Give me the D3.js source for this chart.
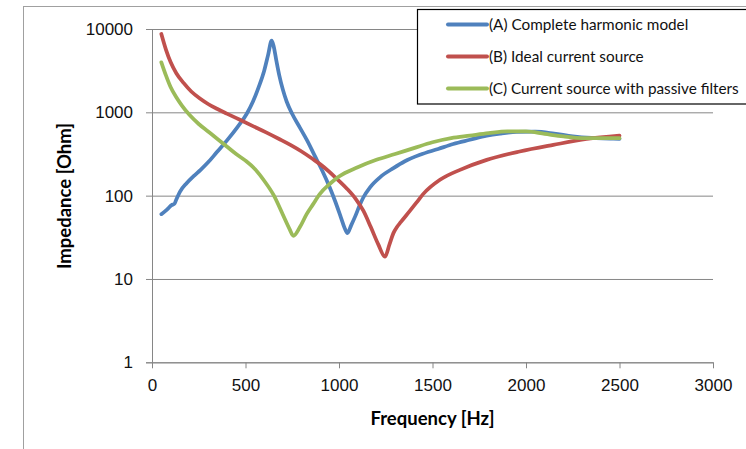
<!DOCTYPE html>
<html>
<head>
<meta charset="utf-8">
<script src="https://cdn.jsdelivr.net/npm/d3@7"></script>
<style>
  body { margin: 0; background: #fff; }
  svg { display: block; font-family: Lato, 'Open Sans', sans-serif; }
  .axis text { font-size: 17px; fill: #111; }
  .axis .domain, .axis line { stroke: #868686; }
</style>
</head>
<body>
<svg id="impedance"></svg>
<script>
// Series (A) Complete harmonic model
const freqA = [50, 80, 105, 120, 130, 150, 185, 221, 260, 300, 346, 400, 453, 506, 540, 570, 600, 620, 640, 650, 665, 680, 700, 720, 750, 790, 830, 870, 910, 950, 980, 1010, 1030, 1045, 1065, 1086, 1110, 1130, 1166, 1219, 1291, 1350, 1433, 1530, 1611, 1700, 1790, 1861, 1950, 2050, 2150, 2250, 2350, 2450, 2500];
const impA = [60, 68, 77, 80, 90, 112, 141, 170, 204, 251, 331, 457, 646, 955, 1349, 1995, 3162, 4786, 7244, 6310, 4169, 2818, 1862, 1349, 955, 661, 457, 302, 200, 126, 85, 55, 41, 35.5, 44, 56, 76, 95, 126, 166, 214, 257, 309, 363, 417, 468, 525, 556, 582, 585, 556, 515, 493, 485, 480];

// Series (B) Ideal current source
const freqB = [50, 75, 100, 130, 170, 210, 260, 300, 350, 400, 470, 540, 610, 680, 740, 800, 860, 920, 980, 1040, 1090, 1130, 1170, 1210, 1246, 1270, 1291, 1310, 1330, 1380, 1415, 1451, 1540, 1647, 1790, 1966, 2146, 2324, 2500];
const impB = [8710, 5623, 3981, 2951, 2239, 1778, 1445, 1259, 1096, 966, 813, 684, 575, 479, 407, 339, 275, 219, 166, 123, 91, 66, 42, 26, 18.5, 26, 35.5, 42, 48, 66, 83, 105, 155, 204, 269, 339, 407, 479, 525];

// Series (C) Current source with passive filters
const freqC = [50, 75, 100, 130, 160, 200, 250, 300, 350, 400, 450, 500, 550, 600, 650, 700, 735, 756, 791, 827, 860, 898, 950, 1000, 1100, 1200, 1300, 1400, 1500, 1600, 1700, 1800, 1900, 2000, 2100, 2200, 2300, 2400, 2500];
const impC = [3981, 2754, 1995, 1514, 1202, 933, 724, 589, 479, 389, 316, 263, 209, 151, 102, 59, 40, 33, 42, 60, 78, 105, 138, 170, 219, 269, 316, 372, 437, 490, 525, 562, 589, 589, 550, 513, 490, 490, 490];

const seriesNames = ['(A) Complete harmonic model', '(B) Ideal current source', '(C) Current source with passive filters'];
const seriesColors = ['#4F81BD', '#C0504D', '#9BBB59'];
const xTicks = [0, 500, 1000, 1500, 2000, 2500, 3000];
const yTicks = [1, 10, 100, 1000, 10000];

const width = 746;
const height = 449;
const plot = { left: 152, right: 713, top: 29, bottom: 362.3 };

const svg = d3.select('#impedance')
  .attr('width', width)
  .attr('height', height);

// chart frame (runs off the page on the right and bottom)
svg.append('rect')
  .attr('x', 23.5)
  .attr('y', 6.5)
  .attr('width', 800)
  .attr('height', 500)
  .attr('fill', 'none')
  .attr('stroke', '#a0a0a0');

const x = d3.scaleLinear()
  .domain([0, 3000])
  .range([plot.left, plot.right]);
const y = d3.scaleLog()
  .domain([1, 10000])
  .range([plot.bottom, plot.top]);

// gridlines
svg.append('g')
  .attr('transform', `translate(${plot.left}, 0)`)
  .call(d3.axisLeft(y).tickValues(yTicks).tickFormat('').tickSize(-(plot.right - plot.left)))
  .call(g => g.select('.domain').remove())
  .selectAll('line')
    .attr('stroke', '#868686');

// y axis
svg.append('g')
  .attr('class', 'axis')
  .attr('transform', `translate(${plot.left}, 0)`)
  .call(d3.axisLeft(y).tickValues(yTicks).tickFormat(d3.format('d')).tickSize(6).tickPadding(13));

// x axis
svg.append('g')
  .attr('class', 'axis')
  .attr('transform', `translate(0, ${plot.bottom})`)
  .call(d3.axisBottom(x).tickValues(xTicks).tickFormat(d3.format('d')).tickSize(6).tickSizeOuter(0).tickPadding(11));

svg.selectAll('.axis .tick text').attr('fill', '#111');

// axis titles
svg.append('text')
  .text('Frequency [Hz]')
  .attr('x', (plot.left + plot.right) / 2)
  .attr('y', 425)
  .attr('text-anchor', 'middle')
  .attr('font-size', 18.5)
  .attr('font-weight', 'bold');
svg.append('text')
  .text('Impedance [Ohm]')
  .attr('transform', 'translate(71, 196) rotate(-90)')
  .attr('text-anchor', 'middle')
  .attr('font-size', 18.5)
  .attr('font-weight', 'bold');

// lines
const series = [
  freqA.map((f, i) => [f, impA[i]]),
  freqB.map((f, i) => [f, impB[i]]),
  freqC.map((f, i) => [f, impC[i]]),
];

const line = d3.line()
  .x(d => x(d[0]))
  .y(d => y(d[1]))
  .curve(d3.curveMonotoneX);

svg.selectAll('.series')
  .data(series)
  .enter().append('path')
    .attr('class', 'series')
    .attr('d', line)
    .attr('fill', 'none')
    .attr('stroke', (d, i) => seriesColors[i])
    .attr('stroke-width', 3.75)
    .attr('stroke-linecap', 'round')
    .attr('stroke-linejoin', 'round');

// legend
const legend = svg.append('g');
legend.append('rect')
  .attr('x', 417.5)
  .attr('y', 9.5)
  .attr('width', 400)
  .attr('height', 94.5)
  .attr('fill', '#fff')
  .attr('stroke', '#000')
  .attr('stroke-width', 1.2);

const legendY = d3.scalePoint()
  .domain(seriesNames)
  .range([24.5, 88.5]);

legend.selectAll('line')
  .data(seriesNames)
  .enter().append('line')
    .attr('x1', 448)
    .attr('x2', 487)
    .attr('y1', d => legendY(d))
    .attr('y2', d => legendY(d))
    .attr('stroke', (d, i) => seriesColors[i])
    .attr('stroke-width', 4)
    .attr('stroke-linecap', 'round');

legend.selectAll('text')
  .data(seriesNames)
  .enter().append('text')
    .text(d => d)
    .attr('x', 489)
    .attr('y', d => legendY(d))
    .attr('dy', '0.35em')
    .attr('font-size', 15.3)
    .attr('fill', '#111');
</script>
</body>
</html>
